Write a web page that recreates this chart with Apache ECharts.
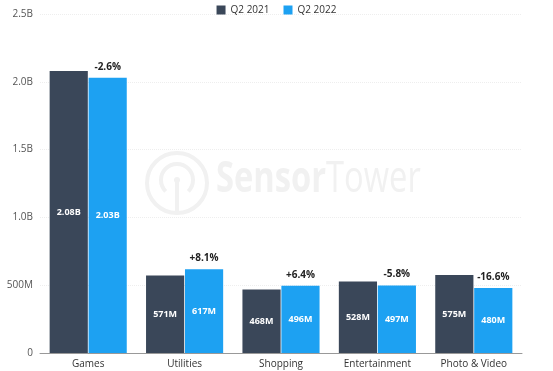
<!DOCTYPE html>
<html><head><meta charset="utf-8">
<script src="https://cdn.jsdelivr.net/npm/echarts@6/dist/echarts.min.js"></script>
<style>html,body{margin:0;padding:0;background:#fff}#c{width:553px;height:371px}</style>
</head><body><div id="c"></div>
<script>
var categories = ['Games', 'Utilities', 'Shopping', 'Entertainment', 'Photo & Video'];
var q2_2021 = [2080, 571, 468, 528, 575]; // millions
var q2_2022 = [2030, 617, 496, 497, 480]; // millions
var changeLabels = ['-2.6%', '+8.1%', '+6.4%', '-5.8%', '-16.6%'];
var yTicks = [0, 500, 1000, 1500, 2000, 2500];

function fmtAxis(v) { if (v === 0) return '0'; if (v < 1000) return v + 'M'; return (v / 1000).toFixed(1) + 'B'; }
function fmtVal(v) { return v >= 1000 ? (v / 1000).toFixed(2) + 'B' : v + 'M'; }

var chart = echarts.init(document.getElementById('c'));
var font = '"Open Sans", "Noto Sans", sans-serif';
var wm = '#f1f1f1';
var inLabel = { show: true, position: 'inside', color: '#fff', fontWeight: 'bold', fontSize: 9, fontFamily: font,
  formatter: function (p) { return fmtVal(p.value); } };
chart.setOption({
  animation: false,
  textStyle: { fontFamily: font },
  graphic: [
    { type: 'circle', shape: { cx: 177, cy: 183, r: 30 }, style: { fill: 'none', stroke: wm, lineWidth: 4 }, z: 0 },
    { type: 'arc', shape: { cx: 177, cy: 180, r: 16, startAngle: Math.PI * 0.75, endAngle: Math.PI * 0.25 }, style: { fill: 'none', stroke: wm, lineWidth: 4 }, z: 0 },
    { type: 'circle', shape: { cx: 177, cy: 180, r: 3 }, style: { fill: wm }, z: 0 },
    { type: 'rect', shape: { x: 175, y: 180, width: 4, height: 33 }, style: { fill: wm }, z: 0 },
    { type: 'text', x: 216, y: 158, scaleX: 0.76, z: 0,
      style: { text: '{a|Sensor}{b|Tower}', rich: {
        a: { fontSize: 43, fontWeight: 'bold', fill: wm, fontFamily: font },
        b: { fontSize: 43, fontWeight: 'normal', fill: wm, fontFamily: font } } } }
  ],
  legend: { top: 0, left: 'center', itemWidth: 9, itemHeight: 9, icon: 'rect', itemGap: 14,
    textStyle: { fontSize: 10, color: '#333' }, data: ['Q2 2021', 'Q2 2022'] },
  grid: { left: 40, right: 31, top: 14, bottom: 18 },
  xAxis: { type: 'category', data: categories,
    axisLine: { lineStyle: { color: '#999', width: 1 } }, axisTick: { show: false },
    axisLabel: { color: '#333', fontSize: 10, margin: 6 } },
  yAxis: { type: 'value', min: 0, max: 2500, interval: 500,
    axisLine: { show: false }, axisTick: { show: false },
    axisLabel: { color: '#555', fontSize: 10, margin: 7, formatter: fmtAxis },
    splitLine: { lineStyle: { color: '#eee', type: 'dotted' } } },
  series: [
    { name: 'Q2 2021', type: 'bar', data: q2_2021, itemStyle: { color: '#3a4759' },
      barGap: '2%', barCategoryGap: '20%', label: inLabel },
    { name: 'Q2 2022', type: 'bar', stack: 'b', data: q2_2022, itemStyle: { color: '#1da1f2' }, label: inLabel },
    { name: 'change', type: 'bar', stack: 'b', data: q2_2022.map(function () { return 0; }),
      itemStyle: { color: 'transparent' }, tooltip: { show: false },
      label: { show: true, position: 'top', color: '#222', fontWeight: 'bold', fontSize: 10, distance: 6,
        formatter: function (p) { return changeLabels[p.dataIndex]; } } }
  ]
});
</script></body></html>
